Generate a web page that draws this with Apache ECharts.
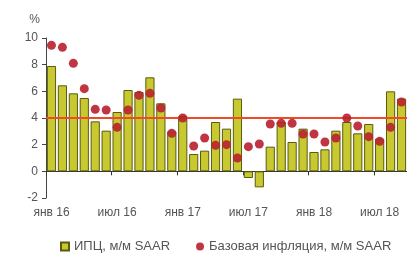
<!DOCTYPE html>
<html>
<head>
<meta charset="utf-8">
<script src="https://cdn.jsdelivr.net/npm/echarts@6/dist/echarts.min.js"></script>
<style>html,body{margin:0;padding:0;background:#fff}#c{width:407px;height:259px}</style>
</head>
<body>
<div id="c"></div>
<script>
const months = ['янв 16','фев 16','мар 16','апр 16','май 16','июн 16','июл 16','авг 16','сен 16','окт 16','ноя 16','дек 16',
  'янв 17','фев 17','мар 17','апр 17','май 17','июн 17','июл 17','авг 17','сен 17','окт 17','ноя 17','дек 17',
  'янв 18','фев 18','мар 18','апр 18','май 18','июн 18','июл 18','авг 18','сен 18'];
const cpi = [7.9,6.45,5.85,5.5,3.75,3.05,4.45,6.1,5.95,7.05,5.1,3.0,
  4.15,1.3,1.55,3.7,3.2,5.45,-0.5,-1.2,1.85,3.7,2.2,3.2,
  1.45,1.65,3.05,3.7,2.85,3.55,2.45,6.0,5.45];
const core = [9.45,9.3,8.1,6.2,4.65,4.6,3.3,4.6,5.7,5.85,4.75,2.85,
  4.0,1.9,2.5,1.95,2.0,1.0,1.85,2.05,3.55,3.6,3.6,2.8,
  2.8,2.2,2.5,4.0,3.4,2.6,2.25,3.3,5.2];
const target = 4;
const yTicks = {min: -2, max: 10, interval: 2};
const seriesNames = ['ИПЦ, м/м SAAR', 'Базовая инфляция, м/м SAAR'];

const chart = echarts.init(document.getElementById('c'));
chart.setOption({
  animation: false,
  backgroundColor: '#fff',
  textStyle: {fontFamily: 'Liberation Sans, Arial, sans-serif'},
  grid: {left: 46, right: 0, top: 38, bottom: 61, containLabel: false},
  legend: {
    left: 55, top: 235, itemGap: 26, itemWidth: 8, itemHeight: 8,
    textStyle: {color: '#555', fontSize: 13, fontFamily: 'Liberation Sans, Arial, sans-serif'},
    data: [
      {name: seriesNames[0], icon: 'rect'},
      {name: seriesNames[1], icon: 'circle', itemStyle: {color: '#b8202e'}}
    ]
  },
  xAxis: [
    {type: 'category', data: months, position: 'bottom',
      axisLine: {show: false, onZero: false}, axisTick: {show: false},
      axisLabel: {interval: 5, color: '#555', fontSize: 12, margin: 9}},
    {type: 'category', data: months, position: 'bottom',
      axisLine: {show: true, onZero: true, lineStyle: {color: '#333', width: 1}},
      axisTick: {show: true, interval: 5, length: 4, lineStyle: {color: '#333'}},
      axisLabel: {show: false}}
  ],
  yAxis: {
    type: 'value', min: yTicks.min, max: yTicks.max, interval: yTicks.interval,
    name: '%', nameLocation: 'end', nameGap: 12,
    nameTextStyle: {color: '#555', fontSize: 12, align: 'right', padding: [0, 6, 0, 0]},
    axisLine: {show: true, lineStyle: {color: '#444'}},
    axisTick: {show: true, length: 4, lineStyle: {color: '#444'}},
    axisLabel: {color: '#555', fontSize: 12, margin: 8},
    splitLine: {show: false}
  },
  series: [
    {name: seriesNames[0], type: 'bar', xAxisIndex: 0, data: cpi, barCategoryGap: '16%',
      itemStyle: {color: '#c8c830', borderColor: '#5a5a10', borderWidth: 1},
      markLine: {silent: true, symbol: 'none', label: {show: false},
        lineStyle: {color: '#f04a28', width: 2, type: 'solid'},
        data: [{yAxis: target}]}},
    {name: seriesNames[1], type: 'scatter', xAxisIndex: 0, data: core, symbolSize: 9, z: 5,
      itemStyle: {color: '#b8202e', opacity: 0.9}}
  ]
});
</script>
</body>
</html>
